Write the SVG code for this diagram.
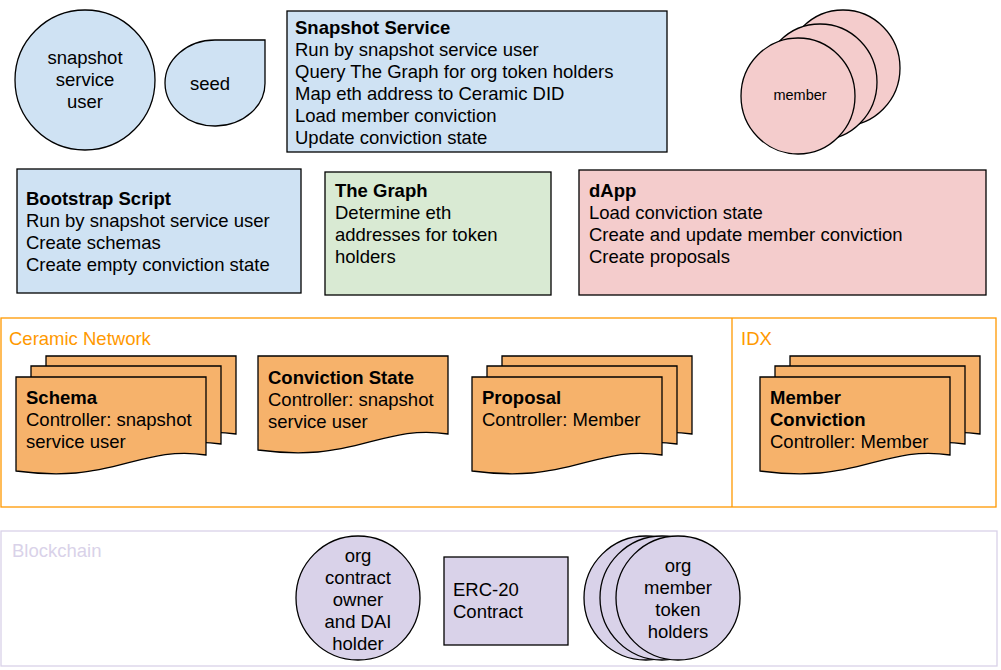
<svg xmlns="http://www.w3.org/2000/svg" width="1001" height="670" viewBox="0 0 1001 670">
<style>
text{font-family:"Liberation Sans",Arial,sans-serif;font-size:18.5px;fill:#000}
.b{font-weight:bold}
.s{stroke:#000;stroke-width:1.3}
.blue{fill:#cfe2f3}.green{fill:#d9ead3}.pink{fill:#f4cccc}.or{fill:#f6b26b}.pu{fill:#d9d2e9}
</style>
<defs>
<path id="doc" d="M0,0 H190 V78 C140,70 110,92 60,96 C35,98 15,96 0,94 Z"/>
</defs>
<rect width="1001" height="670" fill="#fff"/>
<g id="ceramic"><rect x="1" y="318" width="995" height="189" fill="none" stroke="#ff9900" stroke-width="1.3"/><line x1="732" y1="318" x2="732" y2="507" stroke="#ff9900" stroke-width="1.3"/>
<text x="9" y="345" style="fill:#ff9900">Ceramic Network</text><text x="741" y="345" style="fill:#ff9900">IDX</text></g>
<g id="blockchain"><rect x="1" y="531" width="996" height="135" fill="none" stroke="#d9d2e9" stroke-width="1.3"/><text x="12" y="557" style="fill:#d9d2e9">Blockchain</text></g>
<g id="ssuser"><ellipse cx="85" cy="80" rx="70" ry="70" class="blue s"/><text x="85" y="64" text-anchor="middle">snapshot</text><text x="85" y="86" text-anchor="middle">service</text><text x="85" y="108" text-anchor="middle">user</text></g>
<g id="seed"><path d="M215,40 H265 V82 A50,43 0 1 1 215,40 Z" class="blue s"/><text x="210" y="90" text-anchor="middle">seed</text></g>
<g id="snapshot"><rect x="287" y="11" width="380" height="141" class="blue s"/><text x="295" y="34" class="b">Snapshot Service</text><text x="295" y="56">Run by snapshot service user</text><text x="295" y="78">Query The Graph for org token holders</text><text x="295" y="100">Map eth address to Ceramic DID</text><text x="295" y="122">Load member conviction</text><text x="295" y="144">Update conviction state</text></g>
<g id="member"><ellipse cx="843" cy="68" rx="57" ry="58" class="pink s"/><ellipse cx="820" cy="82" rx="57" ry="58" class="pink s"/><ellipse cx="798" cy="96" rx="57" ry="58" class="pink s"/><text x="800" y="100" text-anchor="middle" style="font-size:14.5px">member</text></g>
<g id="bootstrap"><rect x="17" y="169" width="284" height="124" class="blue s"/><text x="26" y="205" class="b">Bootstrap Script</text><text x="26" y="227">Run by snapshot service user</text><text x="26" y="249">Create schemas</text><text x="26" y="271">Create empty conviction state</text></g>
<g id="graph"><rect x="325" y="172" width="226" height="123" class="green s"/><text x="335" y="197" class="b">The Graph</text><text x="335" y="219">Determine eth</text><text x="335" y="241">addresses for token</text><text x="335" y="263">holders</text></g>
<g id="dapp"><rect x="579" y="170" width="407" height="125" class="pink s"/><text x="589" y="197" class="b">dApp</text><text x="589" y="219">Load conviction state</text><text x="589" y="241">Create and update member conviction</text><text x="589" y="263">Create proposals</text></g>
<g id="schema"><use href="#doc" x="46" y="356" class="or s"/><use href="#doc" x="31" y="366" class="or s"/><use href="#doc" x="16" y="377" class="or s"/>
<text x="26" y="404" class="b">Schema</text><text x="26" y="426">Controller: snapshot</text><text x="26" y="448">service user</text></g>
<g id="conviction"><use href="#doc" x="258" y="356" class="or s"/><text x="268" y="384" class="b">Conviction State</text><text x="268" y="406">Controller: snapshot</text><text x="268" y="428">service user</text></g>
<g id="proposal"><use href="#doc" x="502" y="356" class="or s"/><use href="#doc" x="487" y="366" class="or s"/><use href="#doc" x="472" y="377" class="or s"/><text x="482" y="404" class="b">Proposal</text><text x="482" y="426">Controller: Member</text></g>
<g id="memberconv"><use href="#doc" x="790" y="356" class="or s"/><use href="#doc" x="775" y="366" class="or s"/><use href="#doc" x="760" y="377" class="or s"/><text x="770" y="404" class="b">Member</text><text x="770" y="426" class="b">Conviction</text><text x="770" y="448">Controller: Member</text></g>
<g id="owner"><ellipse cx="358" cy="598" rx="62" ry="62" class="pu s"/><text x="358" y="562" text-anchor="middle">org</text><text x="358" y="584" text-anchor="middle">contract</text><text x="358" y="606" text-anchor="middle">owner</text><text x="358" y="628" text-anchor="middle">and DAI</text><text x="358" y="650" text-anchor="middle">holder</text></g>
<g id="erc20"><rect x="444" y="557" width="124" height="88" class="pu s"/><text x="453" y="596">ERC-20</text><text x="453" y="618">Contract</text></g>
<g id="holders"><ellipse cx="646" cy="598" rx="62" ry="62" class="pu s"/><ellipse cx="662" cy="598" rx="62" ry="62" class="pu s"/><ellipse cx="678" cy="598" rx="62" ry="62" class="pu s"/><text x="678" y="572" text-anchor="middle">org</text><text x="678" y="594" text-anchor="middle">member</text><text x="678" y="616" text-anchor="middle">token</text><text x="678" y="638" text-anchor="middle">holders</text></g>
<g id="connectors"/>
</svg>
